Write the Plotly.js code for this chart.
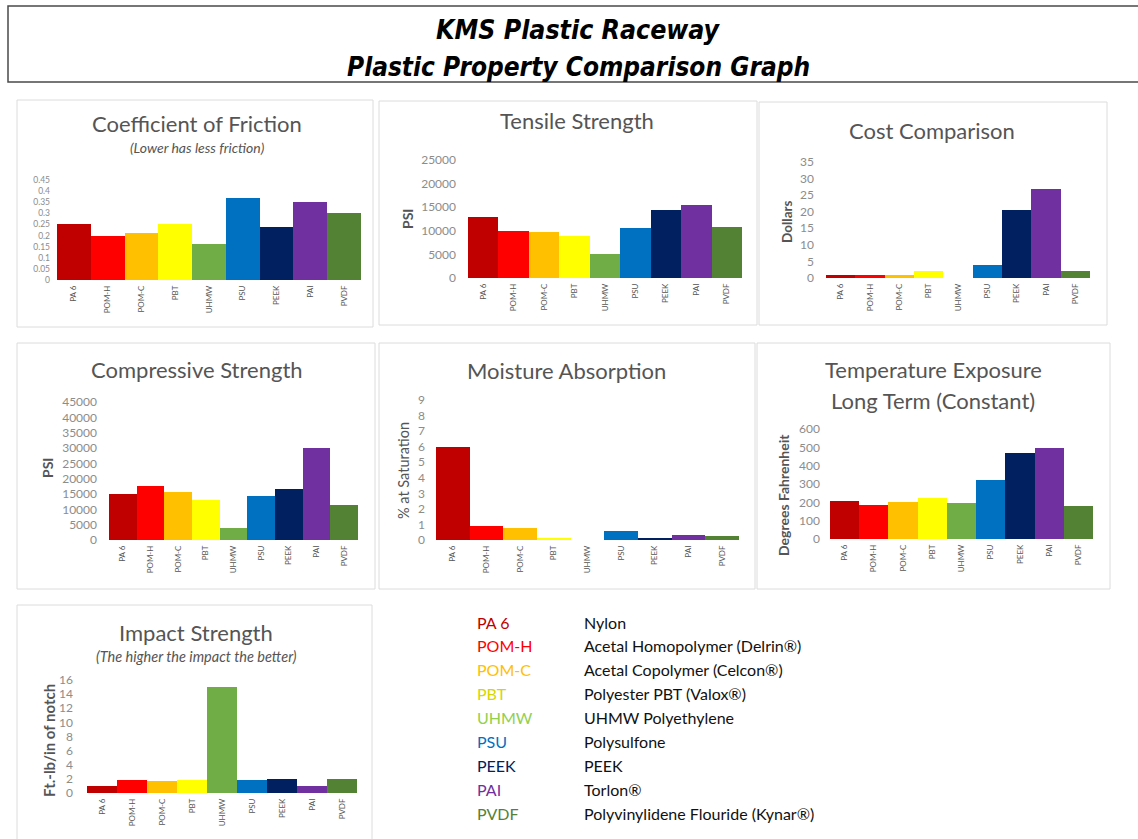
<!DOCTYPE html>
<html>
<head>
<meta charset="utf-8">
<script src="https://cdn.plot.ly/plotly-3.0.1.min.js"></script>
<style>html,body{margin:0;padding:0;background:#fff;}#chart{width:1138px;height:839px;}</style>
</head>
<body>
<div id="chart"></div>
<script>
// ---------- DATA ----------
const materials = ['PA 6','POM-H','POM-C','PBT','UHMW','PSU','PEEK','PAI','PVDF'];
const descriptions = ['Nylon','Acetal Homopolymer (Delrin®)','Acetal Copolymer (Celcon®)','Polyester PBT (Valox®)','UHMW Polyethylene','Polysulfone','PEEK','Torlon®','Polyvinylidene Flouride (Kynar®)'];
const friction    = [0.25, 0.20, 0.21, 0.25, 0.16, 0.37, 0.24, 0.35, 0.30];
const tensile     = [13000, 10000, 9800, 9000, 5000, 10500, 14500, 15500, 10800];
const cost        = [1, 1, 0.8, 2, 0, 4, 20.5, 27, 2];
const compressive = [15000, 17500, 15500, 13000, 3800, 14500, 16500, 30000, 11500];
const moisture    = [6, 0.9, 0.8, 0.15, 0.03, 0.6, 0.1, 0.35, 0.25];
const temperature = [210, 185, 200, 225, 195, 320, 470, 495, 180];
const impact      = [1, 1.8, 1.7, 1.8, 15, 1.8, 2, 1, 2];

// ---------- STYLE ----------
const barColors = ['#C00000','#FF0000','#FFC000','#FFFF00','#70AD47','#0070C0','#002060','#7030A0','#548235'];
const legendColors = ['#C00000','#FF0000','#FFC000','#D6D600','#92D050','#0070C0','#002060','#7030A0','#548235'];
const W = 1138, H = 839;
const px = x => x / W;
const py = y => 1 - y / H;
const GREY = '#555555';
const FONT = 'Lato, "Open Sans", sans-serif';

const panels = [
  {data: friction,    x0: 57,  x1: 361,  yTop: 180, yBot: 280, max: 0.45,  dtick: 0.05, tsize: 8.5, stand: 6, fmt: ''},
  {data: tensile,     x0: 468, x1: 742,  yTop: 160, yBot: 278, max: 25000, dtick: 5000, tsize: 12, stand: 11, fmt: 'd'},
  {data: cost,        x0: 826, x1: 1090, yTop: 162, yBot: 278, max: 35,    dtick: 5,    tsize: 12, stand: 11, fmt: 'd'},
  {data: compressive, x0: 109, x1: 358,  yTop: 402, yBot: 540, max: 45000, dtick: 5000, tsize: 12, stand: 11, fmt: 'd'},
  {data: moisture,    x0: 436, x1: 739,  yTop: 400, yBot: 540, max: 9,     dtick: 1,    tsize: 12, stand: 10, fmt: 'd'},
  {data: temperature, x0: 830, x1: 1093, yTop: 429, yBot: 539, max: 600,   dtick: 100,  tsize: 12, stand: 9, fmt: 'd'},
  {data: impact,      x0: 87,  x1: 357,  yTop: 680, yBot: 793, max: 16,    dtick: 2,    tsize: 12, stand: 13, fmt: 'd'}
];

const traces = [];
const layout = {
  width: W, height: H,
  margin: {l: 0, r: 0, t: 0, b: 0},
  paper_bgcolor: '#ffffff', plot_bgcolor: 'rgba(0,0,0,0)',
  showlegend: false,
  font: {family: FONT, color: GREY},
  bargap: 0,
  shapes: [], annotations: []
};

panels.forEach((p, i) => {
  const n = i === 0 ? '' : String(i + 1);
  traces.push({
    type: 'bar', x: materials, y: p.data,
    xaxis: 'x' + n, yaxis: 'y' + n,
    marker: {color: barColors, line: {width: 0}},
    hoverinfo: 'x+y'
  });
  layout['xaxis' + n] = {
    domain: [px(p.x0), px(p.x1)], anchor: 'y' + n,
    showgrid: false, zeroline: false, showline: false, ticks: '',
    tickangle: -90, tickfont: {size: 8, color: GREY, family: FONT},
    automargin: false, fixedrange: true, ticklabelstandoff: 3
  };
  layout['yaxis' + n] = {
    domain: [py(p.yBot), py(p.yTop)], anchor: 'x' + n,
    range: [0, p.max], dtick: p.dtick, tick0: 0, tickformat: p.fmt,
    showgrid: false, zeroline: false, showline: false, ticks: '',
    tickfont: {size: p.tsize, color: '#8c8c8c', family: FONT},
    automargin: false, fixedrange: true, ticklabelstandoff: p.stand
  };
});

const boxes = [
  [17, 100, 373, 327], [379, 101, 757, 325], [759, 102, 1107, 325],
  [17, 343, 375, 589], [379, 343, 755, 589], [757, 343, 1110, 589],
  [17, 605, 372, 845]
];
boxes.forEach(b => layout.shapes.push({
  type: 'rect', xref: 'paper', yref: 'paper',
  x0: px(b[0]), x1: px(b[2]), y0: py(b[3]), y1: py(b[1]),
  line: {color: '#dcdcdc', width: 1}, fillcolor: 'rgba(0,0,0,0)', layer: 'below'
}));
layout.shapes.push({
  type: 'rect', xref: 'paper', yref: 'paper',
  x0: px(8), x1: px(1145), y0: py(82), y1: py(6),
  line: {color: '#4a4a4a', width: 1.5}, fillcolor: 'rgba(0,0,0,0)'
});

function ann(text, x, y, size, opts) {
  layout.annotations.push(Object.assign({
    text: text, xref: 'paper', yref: 'paper', x: px(x), y: py(y),
    xanchor: 'center', yanchor: 'middle', showarrow: false,
    font: {family: FONT, size: size, color: GREY}
  }, opts || {}));
}

const TFONT = '"DejaVu Sans Condensed", "Liberation Sans Narrow", "Liberation Sans", sans-serif';
ann('<b><i>KMS Plastic Raceway</i></b>', 578, 30, 26.5, {font: {family: TFONT, size: 26.5, color: '#000'}});
ann('<b><i>Plastic Property Comparison Graph</i></b>', 578, 67, 26, {font: {family: TFONT, size: 26, color: '#000'}});

ann('Coefficient of Friction', 197, 123, 22);
ann('<i>(Lower has less friction)</i>', 197, 148, 14);
ann('Tensile Strength', 577, 120, 22);
ann('Cost Comparison', 932, 130, 22);
ann('Compressive Strength', 197, 369, 22);
ann('Moisture Absorption', 566, 370, 22);
ann('Temperature Exposure', 933, 369, 22);
ann('Long Term (Constant)', 933, 400, 22);
ann('Impact Strength', 196, 632, 22);
ann('<i>(The higher the impact the better)</i>', 196, 656, 14.5);

ann('<b>PSI</b>', 407, 218, 14, {textangle: -90});
ann('<b>Dollars</b>', 787, 221, 13.5, {textangle: -90});
ann('<b>PSI</b>', 47, 468, 14, {textangle: -90});
ann('% at Saturation', 403, 471, 14.5, {textangle: -90});
ann('<b>Degrees Fahrenheit</b>', 783, 495, 14, {textangle: -90});
ann('<b>Ft.-lb/in of notch</b>', 49, 741, 15, {textangle: -90});

materials.forEach((m, i) => {
  const y = 622 + i * 23.9;
  ann(m, 475, y, 16, {xanchor: 'left', font: {family: FONT, size: 16, color: legendColors[i]}});
  ann(descriptions[i], 582, y, 16, {xanchor: 'left', font: {family: FONT, size: 16, color: '#111'}});
});

Plotly.newPlot('chart', traces, layout, {displayModeBar: false, staticPlot: true});
</script>
</body>
</html>
